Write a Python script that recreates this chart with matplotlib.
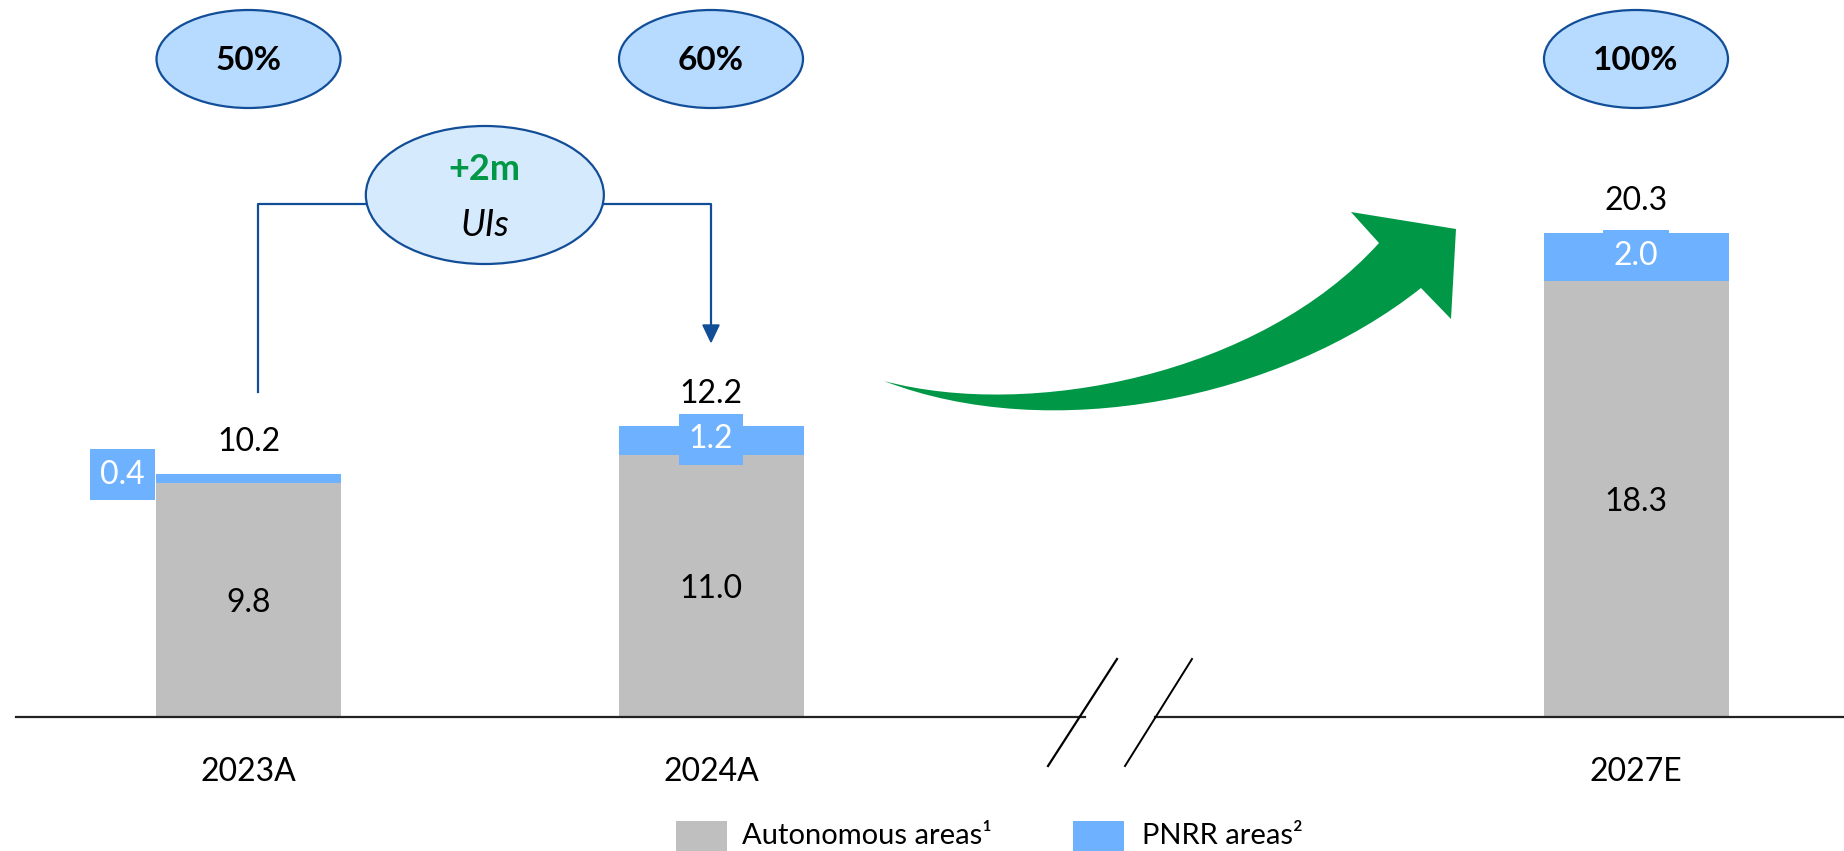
import matplotlib
matplotlib.use("Agg")
import matplotlib.pyplot as plt
import matplotlib.transforms as mtransforms
from matplotlib.patches import Ellipse, Rectangle, PathPatch
from matplotlib.path import Path

# ---------------- data ----------------
categories = ["2023A", "2024A", "2027E"]
positions = [0, 1, 3]
autonomous = [9.8, 11.0, 18.3]
pnrr = [0.4, 1.2, 2.0]
totals = [10.2, 12.2, 20.3]
coverage = ["50%", "60%", "100%"]
legend_labels = ["Autonomous areas\u00b9", "PNRR areas\u00b2"]

GRAY = "#BFBFBF"
BLUE = "#6EB2FF"
DARKBLUE = "#124E98"
GREEN = "#009846"
ELL_FILL = "#B7DAFF"
ELL_FILL2 = "#D6EAFD"
FONT = "Lato"

W, H = 1844, 851
fig = plt.figure(figsize=(W / 100, H / 100), dpi=100)
plt.rcParams["font.family"] = [FONT, "DejaVu Sans"]

# pixel (top-left origin) -> figure transform
T = mtransforms.Affine2D().scale(1 / W, -1 / H).translate(0, 1) + fig.transFigure

ax = fig.add_axes([0, (H - 717) / H, 1, 717 / H])
ax.set_xlim(-248.5 / 462.5, (W - 248.5) / 462.5)
ax.set_ylim(0, 717 / 23.85)
ax.axis("off")

# bars
ax.bar(positions, autonomous, width=0.4, color=GRAY, zorder=2)
ax.bar(positions, pnrr, bottom=autonomous, width=0.4, color=BLUE, zorder=2)

FS = 23
for i, p in enumerate(positions):
    # totals
    ax.annotate(f"{totals[i]:.1f}", (p, autonomous[i] + pnrr[i]), xytext=(0, 23),
                textcoords="offset pixels", ha="center", va="baseline",
                fontsize=FS, color="black")
    # autonomous inside
    ax.annotate(f"{autonomous[i]:.1f}", (p, autonomous[i] / 2), xytext=(0, -12),
                textcoords="offset pixels", ha="center", va="baseline",
                fontsize=FS, color="black")
    # pnrr label with blue box
    box = dict(boxstyle="square,pad=0.32", fc=BLUE, ec="none")
    if pnrr[i] < 1.0:
        ax.annotate(f"{pnrr[i]:.1f}", (p - 0.2, autonomous[i] + pnrr[i] / 2),
                    xytext=(-11, 4), textcoords="offset pixels", ha="right",
                    va="center", fontsize=FS, color="white", bbox=box, zorder=3)
    else:
        ax.annotate(f"{pnrr[i]:.1f}", (p, autonomous[i] + pnrr[i] / 2),
                    xytext=(0, 1), textcoords="offset pixels", ha="center",
                    va="center", fontsize=FS, color="white", bbox=box, zorder=3)
    # category label
    ax.annotate(categories[i], (p, 0), xytext=(0, -64), textcoords="offset pixels",
                ha="center", va="baseline", fontsize=FS, color="black")

# coverage ellipses
bt = mtransforms.blended_transform_factory(ax.transData, T)
for i, p in enumerate(positions):
    e = Ellipse((p, 59), width=184 / 462.5, height=98, transform=bt,
                fc=ELL_FILL, ec=DARKBLUE, lw=1.6, zorder=5)
    fig.add_artist(e)
    t = fig.text(0, 0, coverage[i], transform=bt, fontsize=24, fontweight="bold",
                 ha="center", va="center", zorder=6)
    t.set_position((p, 60))

# +2m UIs connector
mid = (positions[0] + positions[1]) / 2
x_left = positions[0] + 0.02
x_right = positions[1]
fig.add_artist(plt.Line2D([x_left, x_left, mid], [392, 204, 204], transform=bt,
                          color=DARKBLUE, lw=1.6, zorder=4))
fig.add_artist(plt.Line2D([mid, x_right, x_right], [204, 204, 330], transform=bt,
                          color=DARKBLUE, lw=1.6, zorder=4))
arrowhead = plt.Polygon([[x_right - 0.0175, 325], [x_right + 0.0175, 325], [x_right, 342]],
                        closed=True, transform=bt, fc=DARKBLUE, ec=DARKBLUE, zorder=4)
fig.add_artist(arrowhead)
e2 = Ellipse((mid + 0.011, 195), width=238 / 462.5, height=138, transform=bt,
             fc=ELL_FILL2, ec=DARKBLUE, lw=1.6, zorder=5)
fig.add_artist(e2)
t1 = fig.text(0, 0, "+2m", transform=bt, fontsize=26, fontweight="bold",
              color=GREEN, ha="center", va="center", zorder=6)
t1.set_position((mid + 0.011, 169))
t2 = fig.text(0, 0, "UIs", transform=bt, fontsize=26, style="italic",
              color="black", ha="center", va="center", zorder=6)
t2.set_position((mid + 0.011, 226))

# green curved arrow (decoration, pixel coords)
verts = [
    (884, 381),
    (1030, 420), (1260, 375), (1379, 243),
    (1351, 212), (1456, 229), (1451, 319), (1421, 288),
    (1280, 400), (1050, 445), (884, 381),
    (884, 381),
]
codes = [Path.MOVETO,
         Path.CURVE4, Path.CURVE4, Path.CURVE4,
         Path.LINETO, Path.LINETO, Path.LINETO, Path.LINETO,
         Path.CURVE4, Path.CURVE4, Path.CURVE4,
         Path.CLOSEPOLY]
fig.add_artist(PathPatch(Path(verts, codes), transform=T, fc=GREEN, ec="none", zorder=3))

# baseline with break
fig.add_artist(plt.Line2D([16, 1085], [717, 717], transform=T, color="#222222", lw=1.6))
fig.add_artist(plt.Line2D([1155, W], [717, 717], transform=T, color="#222222", lw=1.6))
fig.add_artist(plt.Line2D([1048, 1117], [766, 659], transform=T, color="black", lw=1.6))
fig.add_artist(plt.Line2D([1125, 1192], [766, 659], transform=T, color="black", lw=1.4))

# legend
fig.add_artist(Rectangle((676, 821), 51, 45, transform=T, fc=GRAY, ec="none"))
fig.text(742, 836, legend_labels[0], transform=T, fontsize=21, va="center", ha="left")
fig.add_artist(Rectangle((1073, 821), 51, 45, transform=T, fc=BLUE, ec="none"))
fig.text(1142, 836, legend_labels[1], transform=T, fontsize=21, va="center", ha="left")

fig.savefig("out.png", dpi=100)
